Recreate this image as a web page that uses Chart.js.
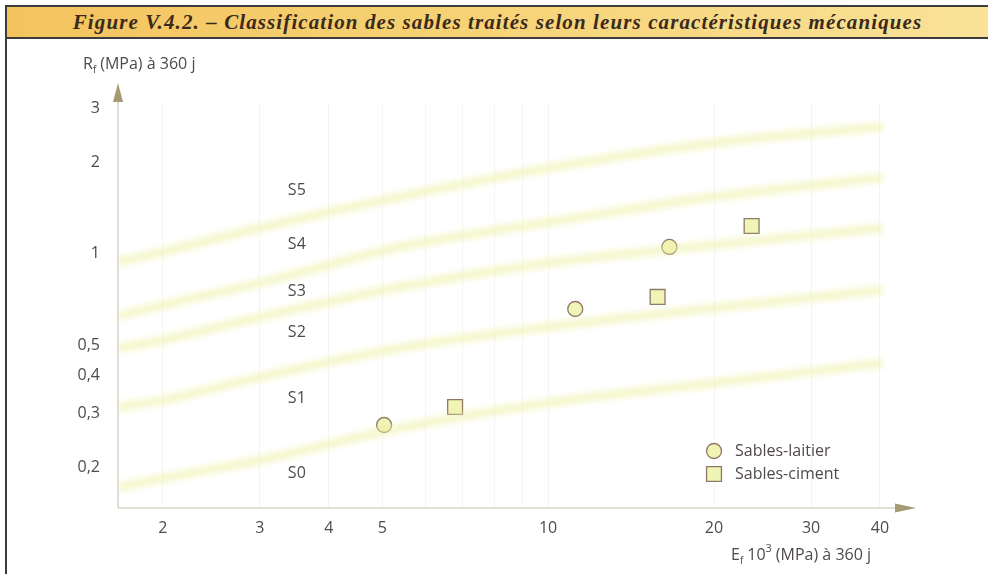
<!DOCTYPE html>
<html lang="fr">
<head>
<meta charset="UTF-8">
<title>Classification des sables traités</title>
<script src="https://cdn.jsdelivr.net/npm/chart.js"></script>
<style>
  body { margin: 0; background: #fff; }
  #wrap { position: relative; width: 988px; height: 574px; overflow: hidden; background: #fff; }
  canvas { position: absolute; left: 0; top: 0; }
  #frame {
    position: absolute; left: 5px; top: 5px; width: 1000px; height: 600px;
    border-left: 2px solid #3c3c3c; border-top: 2px solid #3c3c3c;
  }
  #banner {
    position: absolute; left: 7px; top: 7px; right: 0; height: 30px;
    border-bottom: 2px solid #3c3c3c;
    background: linear-gradient(to right, #f3c35e 0%, #f6d274 45%, #f9e298 100%);
    font: italic bold 21px 'Liberation Serif', serif;
    letter-spacing: 1.1px;
    color: #3b2a1c; text-align: center; line-height: 30px;
  }
</style>
</head>
<body>
<div id="wrap">
  <canvas id="chart" width="988" height="574"></canvas>
  <div id="frame"></div>
  <div id="banner">Figure V.4.2. – Classification des sables traités selon leurs caractéristiques mécaniques</div>
</div>

<script>
// E_f (10^3 MPa) at which the class boundaries are read
const curveE = [1.66, 2, 3, 5.4, 10, 20, 40.5];
// R_f (MPa) along each boundary, bottom to top
const limitS0S1 = [0.172, 0.184, 0.211, 0.269, 0.325, 0.378, 0.439];
const limitS1S2 = [0.315, 0.332, 0.395, 0.492, 0.576, 0.665, 0.762];
const limitS2S3 = [0.492, 0.523, 0.621, 0.779, 0.934, 1.07, 1.217];
const limitS3S4 = [0.626, 0.68, 0.803, 1.054, 1.27, 1.54, 1.78];
const limitS4S5 = [0.941, 1.015, 1.217, 1.54, 1.91, 2.31, 2.61];

// measured sands
const laitierE = [5.04, 11.2, 16.6];
const laitierR = [0.275, 0.660, 1.054];
const cimentE = [6.78, 15.8, 23.4];
const cimentR = [0.315, 0.723, 1.235];

// class names and where they sit
const classNames = ['S0', 'S1', 'S2', 'S3', 'S4', 'S5'];
const classR = [0.191, 0.337, 0.555, 0.756, 1.078, 1.61];
const classE = 3.5;

// ticks
const xGrid = [2, 3, 4, 5, 6, 7, 8, 9, 10, 20, 30, 40];
const xLabels = [2, 3, 4, 5, 10, 20, 30, 40];
const yTicks = [0.2, 0.3, 0.4, 0.5, 1, 2, 3];

const textColor = '#504a4a';
const font = "'Open Sans', sans-serif";

const bandDataset = (vals) => ({
  type: 'line',
  isBand: true,
  data: curveE.map((e, i) => ({ x: e, y: vals[i] })),
  borderColor: 'rgba(238, 242, 165, 0.5)',
  borderWidth: 10,
  pointRadius: 0,
  cubicInterpolationMode: 'monotone',
  fill: false
});

const markerStyle = {
  backgroundColor: '#f0f4b4',
  borderColor: '#8f7868',
  borderWidth: 1.3
};

// draws text runs with sub/superscripts
function drawRuns(ctx, x, y, runs) {
  runs.forEach(r => {
    ctx.font = (r.size || 16) + 'px ' + font;
    ctx.fillText(r.t, x, y + (r.dy || 0));
    x += ctx.measureText(r.t).width + (r.gap || 0);
  });
}

const decorPlugin = {
  id: 'decor',
  beforeDatasetDraw(chart, args) {
    const ds = chart.data.datasets[args.index];
    if (ds.isBand) {
      chart.ctx.save();
      chart.ctx.filter = 'blur(2.5px)';
    }
  },
  afterDatasetDraw(chart, args) {
    if (chart.data.datasets[args.index].isBand) chart.ctx.restore();
  },
  afterDraw(chart) {
    const { ctx, chartArea: a, scales: { x, y } } = chart;
    ctx.save();

    // axes with arrow heads
    ctx.strokeStyle = '#d9d3c6';
    ctx.lineWidth = 1.5;
    ctx.beginPath();
    ctx.moveTo(a.left, a.bottom);
    ctx.lineTo(a.left, 100);
    ctx.moveTo(a.left, a.bottom);
    ctx.lineTo(897, a.bottom);
    ctx.stroke();
    ctx.fillStyle = '#a59a72';
    ctx.beginPath();
    ctx.moveTo(a.left, 83);
    ctx.lineTo(a.left - 5, 102);
    ctx.lineTo(a.left + 5, 102);
    ctx.closePath();
    ctx.fill();
    ctx.beginPath();
    ctx.moveTo(916, a.bottom);
    ctx.lineTo(895, a.bottom - 4.5);
    ctx.lineTo(895, a.bottom + 4.5);
    ctx.closePath();
    ctx.fill();

    // class names
    ctx.fillStyle = textColor;
    ctx.font = '16px ' + font;
    ctx.textAlign = 'center';
    ctx.textBaseline = 'middle';
    classNames.forEach((n, i) => {
      ctx.fillText(n, x.getPixelForValue(classE), y.getPixelForValue(classR[i]));
    });

    // axis titles
    ctx.textAlign = 'left';
    ctx.textBaseline = 'alphabetic';
    drawRuns(ctx, 83, 69, [
      { t: 'R', size: 16 },
      { t: 'f', size: 10, dy: 4, gap: 4 },
      { t: '(MPa) à 360 j', size: 16 }
    ]);
    drawRuns(ctx, 731, 560, [
      { t: 'E', size: 16 },
      { t: 'f', size: 10, dy: 4, gap: 4 },
      { t: '10', size: 16 },
      { t: '3', size: 11, dy: -8, gap: 4 },
      { t: '(MPa) à 360 j', size: 16 }
    ]);

    // legend
    const items = chart.data.datasets.filter(d => !d.isBand);
    items.forEach((d, i) => {
      const cy = 451 + i * 23;
      ctx.fillStyle = d.backgroundColor;
      ctx.strokeStyle = d.borderColor;
      ctx.lineWidth = d.borderWidth;
      Chart.helpers.drawPoint(ctx, {
        pointStyle: d.pointStyle, radius: d.pointRadius, rotation: 0, borderWidth: d.borderWidth
      }, 714, cy);
      ctx.fillStyle = textColor;
      ctx.font = '16px ' + font;
      ctx.textBaseline = 'middle';
      ctx.fillText(d.label, 735, cy);
    });
    ctx.restore();
  }
};

new Chart(document.getElementById('chart'), {
  type: 'scatter',
  data: {
    datasets: [
      bandDataset(limitS0S1),
      bandDataset(limitS1S2),
      bandDataset(limitS2S3),
      bandDataset(limitS3S4),
      bandDataset(limitS4S5),
      Object.assign({
        label: 'Sables-laitier',
        data: laitierE.map((e, i) => ({ x: e, y: laitierR[i] })),
        pointStyle: 'circle',
        pointRadius: 7.5
      }, markerStyle),
      Object.assign({
        label: 'Sables-ciment',
        data: cimentE.map((e, i) => ({ x: e, y: cimentR[i] })),
        pointStyle: 'rect',
        pointRadius: 10.5
      }, markerStyle)
    ]
  },
  options: {
    responsive: false,
    animation: false,
    events: [],
    layout: { padding: { left: 0, right: 101, top: 104, bottom: 0 } },
    plugins: { legend: { display: false }, tooltip: { enabled: false } },
    scales: {
      x: {
        type: 'logarithmic',
        min: 1.658,
        max: 41.2,
        afterBuildTicks: s => { s.ticks = xGrid.map(v => ({ value: v })); },
        afterFit: s => { s.height = 66; },
        grid: { color: 'rgba(0,0,0,0.045)', drawTicks: false },
        border: { display: false },
        ticks: {
          autoSkip: false, maxRotation: 0, padding: 11,
          color: textColor, font: { family: font, size: 16 },
          callback: v => xLabels.includes(v) ? String(v) : ''
        }
      },
      y: {
        type: 'logarithmic',
        min: 0.147,
        max: 3.1,
        afterBuildTicks: s => { s.ticks = yTicks.map(v => ({ value: v })); },
        afterFit: s => { s.width = 118; },
        grid: { display: false },
        border: { display: false },
        ticks: {
          autoSkip: false, padding: 10,
          color: textColor, font: { family: font, size: 16 },
          callback: v => String(v).replace('.', ',')
        }
      }
    }
  },
  plugins: [decorPlugin]
});
</script>
</body>
</html>
